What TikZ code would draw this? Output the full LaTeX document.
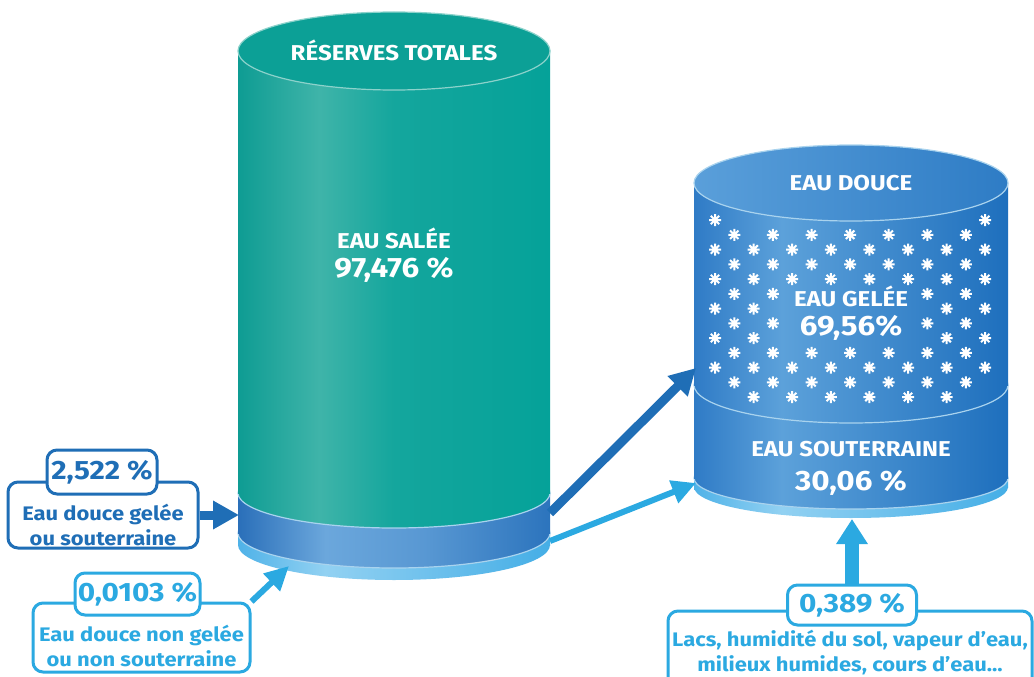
\documentclass[tikz,border=0pt]{standalone}
\usepackage{fontspec}
\setmainfont{Fira Sans}[FakeStretch=1.12]
\usetikzlibrary{arrows.meta}

\definecolor{tealA}{HTML}{0E9C93}
\definecolor{tealB}{HTML}{3FB4A9}
\definecolor{tealC}{HTML}{14A69D}
\definecolor{tealD}{HTML}{05A299}
\definecolor{tealtop}{HTML}{0CA096}
\definecolor{bandA}{HTML}{2A6FB9}
\definecolor{bandB}{HTML}{6BA7DC}
\definecolor{bandC}{HTML}{2C74BD}
\definecolor{lightA}{HTML}{4FB2E8}
\definecolor{lightB}{HTML}{92D1F2}
\definecolor{lightC}{HTML}{45AEE6}
\definecolor{blueA}{HTML}{2F7BC6}
\definecolor{blueB}{HTML}{5CA1DA}
\definecolor{blueC}{HTML}{1E6FBD}
\definecolor{topA}{HTML}{5A9FDA}
\definecolor{topC}{HTML}{2E7CC5}
\definecolor{rimline}{HTML}{A9D3EE}
\definecolor{boxdark}{HTML}{1F6EB6}
\definecolor{boxlight}{HTML}{2BA9E1}

\pgfdeclarehorizontalshading{tealbody}{100bp}{color(0bp)=(tealA); color(25bp)=(tealA); color(38bp)=(tealB); color(50bp)=(tealC); color(75bp)=(tealD); color(100bp)=(tealD)}
\pgfdeclarehorizontalshading{darkband}{100bp}{color(0bp)=(bandA); color(25bp)=(bandA); color(39bp)=(bandB); color(55bp)=(bandB!70!bandC); color(75bp)=(bandC); color(100bp)=(bandC)}
\pgfdeclarehorizontalshading{lightband}{100bp}{color(0bp)=(lightA); color(25bp)=(lightA); color(39bp)=(lightB); color(75bp)=(lightC); color(100bp)=(lightC)}
\pgfdeclarehorizontalshading{bluebody}{100bp}{color(0bp)=(blueA); color(25bp)=(blueA); color(39bp)=(blueB); color(75bp)=(blueC); color(100bp)=(blueC)}
\pgfdeclarehorizontalshading{bluetop}{100bp}{color(0bp)=(topA); color(25bp)=(topA); color(75bp)=(topC); color(100bp)=(topC)}

\begin{document}
\begin{tikzpicture}[x=1pt, y=-1pt,
    flake/.pic={\draw[white, line width=2pt] (-6,0) -- (6,0) (0,-6) -- (0,6) (-4.2,-4.2) -- (4.2,4.2) (-4.2,4.2) -- (4.2,-4.2);}]
    \tikzstyle{captxt}=[text=white, font=\bfseries\fontsize{21.5}{24}\selectfont]
    \tikzstyle{pcttxt}=[text=white, font=\bfseries\fontsize{28}{30}\selectfont]
    \tikzstyle{rim}=[draw=rimline, line width=1.2pt]
    \tikzstyle{bigbox}=[draw, line width=3pt, rounded corners=10pt, fill=white, inner sep=0pt]
    \tikzstyle{titlebox}=[bigbox, font=\bfseries\fontsize{26.5}{28}\selectfont]
    \tikzstyle{boxtxt}=[align=center, font=\bfseries\fontsize{19.6}{25}\selectfont]
    \tikzstyle{fatarrow}=[-{Triangle[length=26pt, width=27pt]}, line width=9pt]
    \tikzstyle{slimarrow}=[-{Triangle[length=24pt, width=23pt]}, line width=6pt]

    \useasboundingbox (0,0) rectangle (1034,677);
    \clip (0,0) rectangle (1034,677);
    \fill[white] (0,0) rectangle (1034,677);

    % left cylinder, from the bottom up
    \shade[shading=lightband] (394,545) ellipse (156pt and 35pt);
    \shade[shading=lightband] (238,533) rectangle (550,545);
    \shadedraw[shading=darkband, rim] (394,533) ellipse (156pt and 35pt);
    \shade[shading=darkband] (238,493) rectangle (550,533);
    \shadedraw[shading=tealbody, rim] (394,493) ellipse (156pt and 35pt);
    \shade[shading=tealbody] (238,51) rectangle (550,493);
    \filldraw[fill=tealtop, draw=tealB!60!white, line width=1.2pt] (394,51) ellipse (156pt and 39pt);

    \node[captxt] (reserves) at (394,50) {RÉSERVES TOTALES};
    \node[captxt] (salee) at (394,238) {EAU SALÉE};
    \node[pcttxt] (saleepct) at (394,270) {97,476 \%};

    % right cylinder
    \shade[shading=lightband] (851,487) ellipse (157pt and 31pt);
    \shade[shading=lightband] (694,478) rectangle (1008,487);
    \shadedraw[shading=bluebody, rim] (851,478) ellipse (157pt and 31pt);
    \shade[shading=bluebody] (694,385) rectangle (1008,478);
    \shadedraw[shading=bluebody, rim] (851,385) ellipse (157pt and 38pt);
    \shade[shading=bluebody] (694,183) rectangle (1008,385);
    \shadedraw[shading=bluetop, rim] (851,183) ellipse (157pt and 38pt);

    % snow flakes
    \foreach \i in {0,...,14}
      \foreach \j in {0,...,7}{
        \pgfmathsetmacro\fx{715+19.3*\i}
        \pgfmathsetmacro\fy{220+14.75*mod(\i,2)+29.5*\j}
        \pgfmathsetmacro\fe{38*sqrt(1-((\fx-851)/157)^2)}
        \pgfmathtruncatemacro\ok{(\fy>183+\fe+8)&&(\fy<385+\fe-12)&&!((\fx>788)&&(\fx<914)&&(\fy>280)&&(\fy<344))}
        \ifnum\ok=1 \pic at (\fx,\fy) {flake};\fi
      }

    \node[captxt] (douce) at (851,183) {EAU DOUCE};
    \node[captxt] (gelee) at (851,296) {EAU GELÉE};
    \node[pcttxt] (geleepct) at (851,328) {69,56\%};
    \node[captxt] (souterraine) at (851,449) {EAU SOUTERRAINE};
    \node[pcttxt] (soutpct) at (851,483) {30,06 \%};

    % arrow ends on the cylinders
    \coordinate (bandin) at (239,515);
    \coordinate (lbottom) at (289,566);
    \coordinate (out1) at (550,513);
    \coordinate (out2) at (550,541);
    \coordinate (in1) at (696,368);
    \coordinate (in2) at (696,483);
    \coordinate (rbottom) at (852,519);

    % boxes
    \node[bigbox, draw=boxdark, minimum width=190pt, minimum height=66pt] (box1) at (103,515) {};
    \node[boxtxt, text=boxdark] (txt1) at (103,525) {Eau douce gelée\\ou souterraine};
    \node[titlebox, draw=boxdark, text=boxdark, minimum width=110pt, minimum height=44pt] (p1) at (102,472) {2,522 \%};

    \node[bigbox, draw=boxlight, minimum width=217pt, minimum height=69pt] (box2) at (141.5,637.5) {};
    \node[boxtxt, text=boxlight] (txt2) at (141.5,646) {Eau douce non gelée\\ou non souterraine};
    \node[titlebox, draw=boxlight, text=boxlight, minimum width=125pt, minimum height=42pt] (p2) at (137.5,594) {0,0103 \%};

    \node[bigbox, draw=boxlight, minimum width=364pt, minimum height=78pt] (box3) at (850,650) {};
    \node[boxtxt, text=boxlight] (txt3) at (850,653) {Lacs, humidité du sol, vapeur d'eau,\\milieux humides, cours d'eau...};
    \node[titlebox, draw=boxlight, text=boxlight, minimum width=129pt, minimum height=40pt] (p3) at (852,605) {0,389 \%};

    % arrows
    \draw[fatarrow, boxdark] (box1.east) -- (bandin);
    \draw[slimarrow, boxlight] (box2.north east) -- (lbottom);
    \draw[fatarrow, boxdark] (out1) -- (in1);
    \draw[slimarrow, boxlight] (out2) -- (in2);
    \draw[-{Triangle[length=25pt, width=30pt]}, line width=14pt, boxlight] (p3.north) -- (rbottom);
\end{tikzpicture}
\end{document}
